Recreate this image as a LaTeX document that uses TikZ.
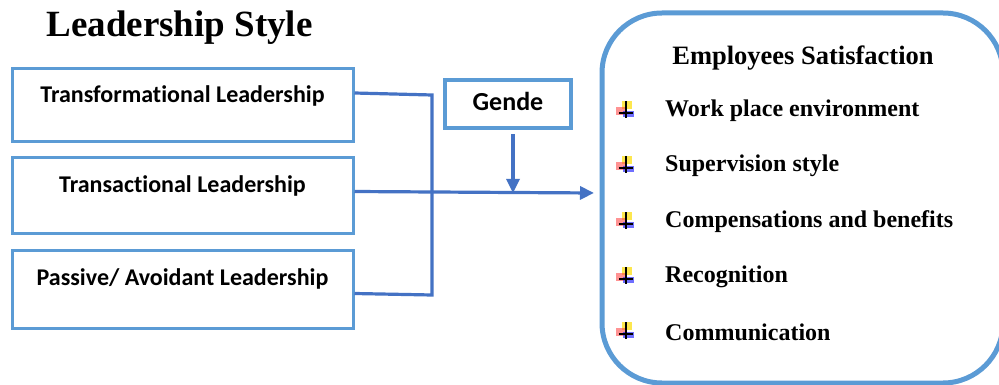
\documentclass[tikz,border=0pt]{standalone}
\usepackage{fontspec}
\setmainfont{Liberation Serif}
\newfontfamily\carl[Ligatures=NoCommon]{Carlito}
\usetikzlibrary{arrows.meta,calc}
\definecolor{lblue}{HTML}{5B9BD5}
\definecolor{dblue}{HTML}{4472C4}
\tikzset{
  lbox/.style={draw=lblue, line width=3pt, minimum width=341pt, inner sep=0pt},
  ltext/.style={font=\carl\bfseries\fontsize{24}{28}\selectfont, inner sep=0pt},
  conn/.style={draw=dblue, line width=3.2pt},
  arr/.style={conn, -{Triangle[length=14pt,width=13pt]}},
  item/.style={font=\bfseries\fontsize{24}{28}\selectfont, anchor=west, inner sep=0pt},
}
\newcommand{\mybullet}[1]{%
  \begin{scope}[shift={#1}]
    \fill[yellow!80!orange, opacity=0.7] (-4,-9) rectangle (6,-1);
    \fill[red!70, opacity=0.6] (-10,-3) rectangle (0,5);
    \fill[blue!80, opacity=0.7] (-3,1) rectangle (8,7);
    \draw[black, line width=1.2pt] (0,-9) -- (0,8);
    \draw[black, line width=1.2pt] (-7,3) -- (7,3);
  \end{scope}}
\begin{document}
\begin{tikzpicture}[x=1pt,y=-1pt]
\useasboundingbox (0,0) rectangle (999,385);
\fill[white] (0,0) rectangle (999,385);
% title
\node[font=\bfseries\fontsize{37}{42}\selectfont, inner sep=0pt] (title) at (179.5,28) {Leadership Style};
% left boxes
\node[lbox, minimum height=73pt] (b1) at (182.5,105.5) {};
\node[ltext] (t1) at (182.5,96) {Transformational Leadership};
\node[lbox, minimum height=75pt] (b2) at (182.5,195.5) {};
\node[ltext] (t2) at (182.5,186) {Transactional Leadership};
\node[lbox, minimum height=78pt] (b3) at (182.5,289) {};
\node[ltext] (t3) at (182.5,279) {Passive/ Avoidant Leadership};
% gende
\node[draw=lblue, line width=4.5pt, minimum width=126pt, minimum height=48pt, inner sep=0pt] (g) at (508,104) {};
\node[font=\carl\bfseries\fontsize{26}{30}\selectfont, inner sep=0pt] (gt) at (508,101) {Gende};
% connectors
\coordinate (j1) at (432,95);
\coordinate (j3) at (432,295);
\coordinate (m) at (513,193);
\coordinate (tip) at (594,193);
\draw[conn] ($(b1.north east)+(0,25.5)$) -- (j1) -- (j3) -- ($(b3.north east)+(0,45)$);
\draw[arr] ($(b2.north east)+(0,35)$) -- (tip);
\draw[arr] ($(g.south)+(5,4)$) -- (m);
% right box
\draw[draw=lblue, line width=5pt, rounded corners=60pt] (602,13) rectangle (1003,383);
\node[font=\bfseries\fontsize{26.5}{30}\selectfont, inner sep=0pt] (es) at (803,58) {Employees Satisfaction};
\node[item] (i1) at (665,111) {Work place environment};
\node[item] (i2) at (665,166) {Supervision style};
\node[item] (i3) at (665,222) {Compensations and benefits};
\node[item] (i4) at (665,277) {Recognition};
\node[item] (i5) at (665,332) {Communication};
\mybullet{(626,110)}
\mybullet{(626,165)}
\mybullet{(626,221)}
\mybullet{(626,276)}
\mybullet{(626,331)}
\end{tikzpicture}
\end{document}
